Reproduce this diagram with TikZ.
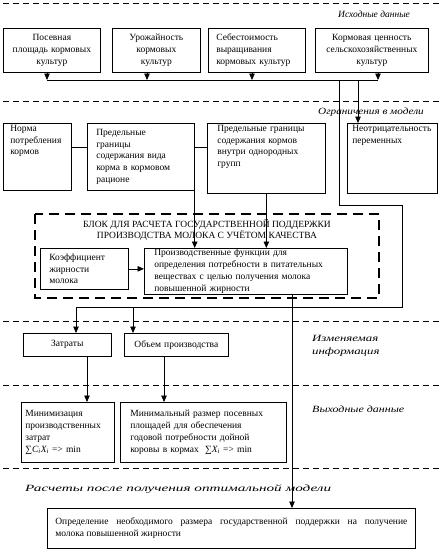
\documentclass[tikz,border=0pt]{standalone}
\usepackage{fontspec}
\setmainfont{Liberation Serif}
\usepackage{graphicx}
\usetikzlibrary{arrows.meta,positioning}

\newcommand{\widen}[2]{\scalebox{#1}[1]{#2}}
\newcommand{\sumvar}[1]{∑\textit{#1}}

\begin{document}
\begin{tikzpicture}[x=1pt, y=-1pt,
    box/.style={draw, line width=0.7pt, anchor=north west, inner ysep=0pt,
                font=\fontsize{9.5}{11.8}\selectfont},
    arr/.style={-{Triangle[width=5.5pt,length=6.5pt]}, line width=0.7pt},
    link/.style={line width=0.7pt},
    sep/.style={line width=0.6pt, dash pattern=on 6pt off 4pt},
    zone/.style={anchor=west, inner sep=0pt, font=\fontsize{9.5}{13}\selectfont\itshape}
]
\useasboundingbox (0,0) rectangle (445,550);

% separators
\draw[sep] (3,3) -- (440,3);
\draw[sep] (3,101) -- (440,101);
\draw[sep] (3,321) -- (440,321);
\draw[sep] (3,385) -- (440,385);
\draw[sep] (3,468) -- (440,468);

\node[zone] (z1) at (338,14) {Исходные данные};
\node[zone] (z2) at (318,112) {\widen{1.18}{Ограничения в модели}};
\node[zone] (z3) at (312,345) {\widen{1.35}{\begin{tabular}{@{}l@{}}Изменяемая\\информация\end{tabular}}};
\node[zone] (z4) at (312,409) {\widen{1.26}{Выходные данные}};
\node[zone] (z5) at (25,489) {\widen{1.6}{Расчеты после получения оптимальной модели}};

% source data
\node[box, align=center, inner xsep=3pt, text width=91pt, minimum height=44pt] (s1) at (3,28) {Посевная\\площадь кормовых\\культур};
\node[box, align=center, inner xsep=3pt, text width=82pt, minimum height=44pt] (s2) at (112,28) {Урожайность\\кормовых\\культур};
\node[box, align=left, inner xsep=8pt, text width=81pt, minimum height=44pt] (s3) at (208,28) {Себестоимость\\выращивания\\кормовых культур};
\node[box, align=center, inner xsep=3pt, text width=107pt, minimum height=44pt] (s4) at (315,28) {Кормовая ценность\\сельскохозяйственных\\культур};

% constraints
\node[box, align=left, inner xsep=7pt, text width=54pt, text height=8pt, text depth=59pt] (r1) at (3,123) {Норма\\потребления\\кормов};
\node[box, align=left, inner xsep=9pt, text width=89pt, minimum height=67pt] (r2) at (87,123) {Предельные\\границы\\содержания вида\\корма в кормовом\\рационе};
\node[box, align=left, inner xsep=10pt, text width=98pt, text height=8pt, text depth=62pt] (r3) at (207,123) {Предельные границы\\содержания кормов\\внутри однородных\\групп};
\node[box, align=left, inner xsep=5pt, text width=80pt, text height=8pt, text depth=62pt] (r4) at (347,123) {Неотрицательность\\переменных};

% calculation block
\draw[line width=2pt, dash pattern=on 10pt off 6pt] (35,214) rectangle (379,298);
\node[font=\fontsize{9.5}{11.5}\selectfont, align=center, inner sep=0pt] (ttl) at (207,230) {БЛОК ДЛЯ РАСЧЕТА ГОСУДАРСТВЕННОЙ ПОДДЕРЖКИ\\ПРОИЗВОДСТВА МОЛОКА С УЧЁТОМ КАЧЕСТВА};
\node[box, align=left, inner xsep=9pt, text width=70pt, minimum height=41pt] (kf) at (40,248) {Коэффициент\\жирности\\молока};
\node[box, align=left, inner xsep=10pt, text width=183pt, minimum height=46pt] (fn) at (144,248) {Производственные функции для\\определения потребности в питательных\\веществах с целью получения молока\\повышенной жирности};

% variable data
\node[box, align=center, inner xsep=3pt, text width=82pt, minimum height=23pt] (cost) at (23,333) {Затраты};
\node[box, align=center, inner xsep=3pt, text width=98pt, minimum height=23pt] (vol) at (124,333) {Объем производства};

% output
\node[box, align=left, inner xsep=4pt, text width=85pt, minimum height=60pt] (m1) at (21,402) {Минимизация\\производственных\\затрат\\\sumvar{C\textsubscript{i}X\textsubscript{i}} => min};
\node[box, align=left, inner xsep=10pt, text width=146pt, minimum height=60pt] (m2) at (120,402) {Минимальный размер посевных\\площадей для обеспечения\\годовой потребности дойной\\коровы в кормах\ \ \sumvar{X\textsubscript{i}} => min};

\node[box, align=justify, inner xsep=8pt, text width=352pt, minimum height=40pt] (fin) at (47,508) {Определение необходимого размера государственной поддержки на получение\linebreak молока повышенной жирности};

% connectors
\coordinate (b1) at (47,80);
\coordinate (b2) at (147,80);
\coordinate (b3) at (252,80);
\coordinate (b4) at (378,80);
\coordinate (t1) at (339,80);
\coordinate (t2) at (358,80);
\coordinate (turn) at (402,205);
\coordinate (c1) at (76,307);
\coordinate (c2) at (133,307);
\coordinate (lvl) at (0,147);
\coordinate (dn) at (292,0);
\coordinate (d1) at (87,0);
\coordinate (d2) at (164,0);

\draw[arr] (s1.south -| b1) -- (b1);
\draw[arr] (s2.south -| b2) -- (b2);
\draw[arr] (s3.south -| b3) -- (b3);
\draw[arr] (s4.south -| b4) -- (b4);
\draw[link] (b1) -- (b4);
\draw[arr] (t2) -- (t2 |- r4.north);
\draw[arr] (t1) |- (turn) |- (c1) -- (c1 |- cost.north);
\draw[arr] (c2) -- (c2 |- vol.north);

\draw[link] (r1.east |- lvl) -- (r2.west |- lvl);
\draw[link] (r2.east |- lvl) -- (r3.west |- lvl);
\draw[arr] (r2.south east) -- (r2.south east |- fn.north);
\draw[arr] (r3.south) -- (r3.south |- fn.north);
\draw[arr] (kf.east) -- (kf.east -| fn.west);
\draw[arr] (fn.south -| dn) -- (fin.north -| dn);

\draw[arr] (cost.south -| d1) -- (m1.north -| d1);
\draw[arr] (vol.south -| d2) -- (m2.north -| d2);
\end{tikzpicture}
\end{document}
